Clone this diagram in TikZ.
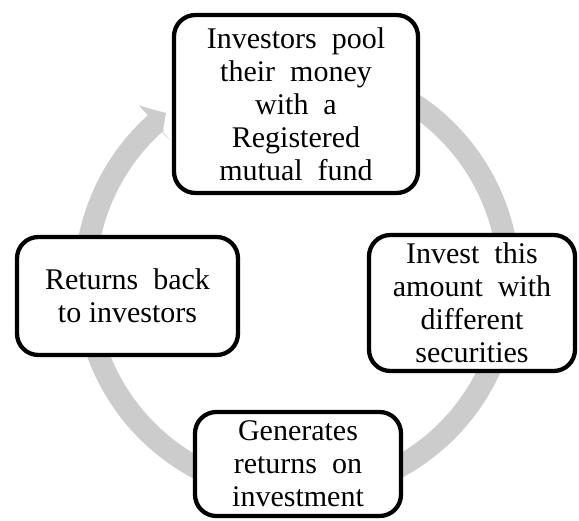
\documentclass[tikz,border=0pt]{standalone}
\usepackage{fontspec}
\setmainfont{Liberation Serif}
\usetikzlibrary{calc}
\newcommand{\boxfnt}{\fontsize{22.5}{24.75}\selectfont\spaceskip=0.5em plus 0.1em minus 0.05em\relax}
\begin{document}
\begin{tikzpicture}[x=0.75pt,y=-0.75pt,
  stepbox/.style={draw=black, line width=3.2pt, rounded corners=16pt, fill=white,
    inner sep=0pt, align=center, font=\boxfnt},
  ring/.style={draw=ringgray, line width=16.5pt, line cap=butt},
  ringhead/.style={fill=ringgray, draw=none}]
\definecolor{ringgray}{HTML}{CCCCCC}
\useasboundingbox (0,0) rectangle (579,521);
\coordinate (c) at (297,281);
% ring with arrowhead
\draw[ring] plot[domain=-80:228.5, samples=240, smooth] ({297+212*cos(\x)},{281+212*sin(\x)});
\fill[ringhead] ($(c)+(228:236)$) -- (166,113) -- (162.6,133) -- ($(c)+(228:188)$) -- cycle;
% boxes
\node[stepbox, minimum width=183pt, minimum height=133.5pt] (pool) at (296,104)
  {Investors pool\\their money\\with a\\Registered\\mutual fund};
\node[stepbox, minimum width=154.5pt, minimum height=102pt] (invest) at (472,303)
  {Invest this\\amount with\\different\\securities};
\node[stepbox, minimum width=154.5pt, minimum height=78pt] (gen) at (298,464)
  {Generates\\returns on\\investment};
\node[stepbox, minimum width=165.75pt, minimum height=88.5pt] (back) at (127.5,296)
  {Returns back\\{\spaceskip=0pt\relax to investors}};
\end{tikzpicture}
\end{document}
